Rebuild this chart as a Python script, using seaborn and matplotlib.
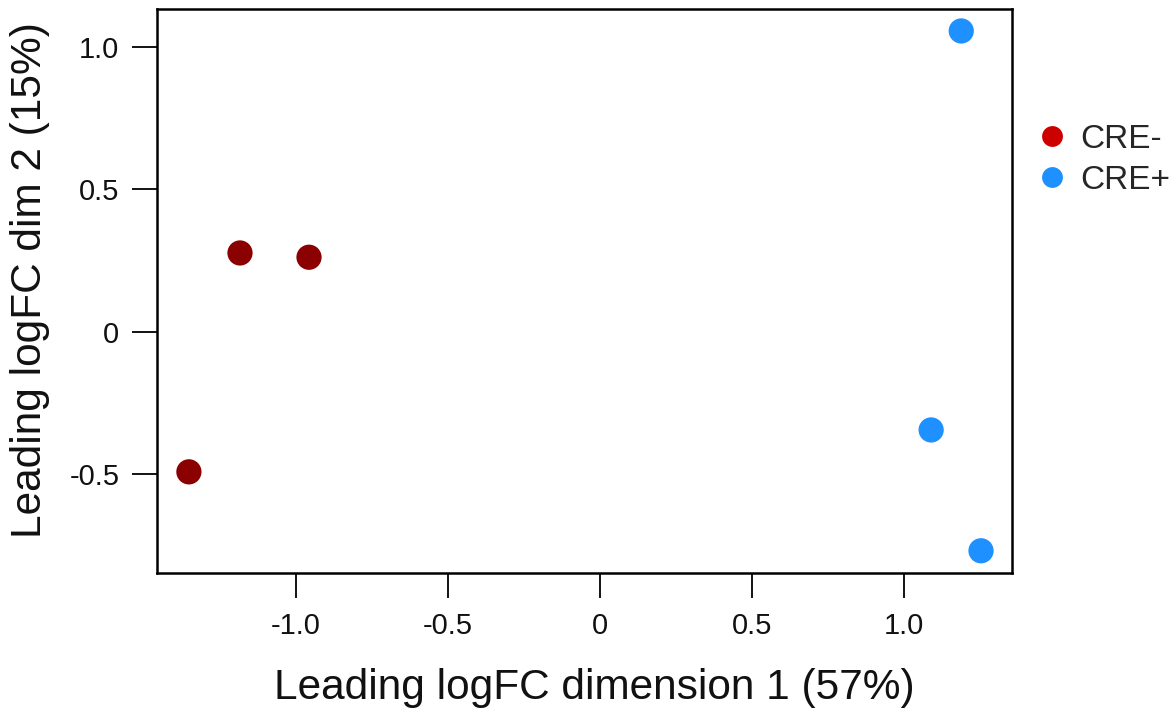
import matplotlib
matplotlib.use("Agg")
import matplotlib.pyplot as plt
from matplotlib.lines import Line2D
import seaborn as sns
import pandas as pd

# data
groups = ["CRE-", "CRE-", "CRE-", "CRE+", "CRE+", "CRE+"]
dim1 = [-1.184, -0.957, -1.352, 1.188, 1.089, 1.253]
dim2 = [0.277, 0.262, -0.491, 1.056, -0.344, -0.768]
x_ticks = [-1.0, -0.5, 0.0, 0.5, 1.0]
x_ticklabels = ["-1.0", "-0.5", "0", "0.5", "1.0"]
y_ticks = [-0.5, 0.0, 0.5, 1.0]
y_ticklabels = ["-0.5", "0", "0.5", "1.0"]
point_colors = {"CRE-": "#8B0000", "CRE+": "#1E90FF"}
legend_colors = {"CRE-": "#CD0000", "CRE+": "#1E90FF"}

df = pd.DataFrame({"dim1": dim1, "dim2": dim2, "group": groups})

sns.set_style("white")
plt.rcParams["font.family"] = ["Liberation Sans", "DejaVu Sans"]
plt.rcParams["axes.unicode_minus"] = False

fig = plt.figure(figsize=(11.75, 7.09), dpi=100)
ax = fig.add_axes([0.1336, 0.1918, 0.8613 - 0.1336, 0.9873 - 0.1918])

sns.scatterplot(data=df, x="dim1", y="dim2", hue="group", palette=point_colors,
                s=330, linewidth=0, legend=False, ax=ax, zorder=3)

ax.set_xlim(-1.457, 1.355)
ax.set_ylim(-0.846, 1.133)
ax.set_xticks(x_ticks)
ax.set_xticklabels(x_ticklabels)
ax.set_yticks(y_ticks)
ax.set_yticklabels(y_ticklabels)
ax.tick_params(axis="both", direction="out", length=18, width=1.3, color="black",
               labelsize=21, labelcolor="#111111", bottom=True, left=True)
ax.tick_params(axis="x", pad=10)
ax.tick_params(axis="y", pad=9)
for sp in ax.spines.values():
    sp.set_visible(True)
    sp.set_color("black")
    sp.set_linewidth(1.8)

ax.set_xlabel("Leading logFC dimension 1 (57%)", fontsize=30.5, color="#111111", labelpad=20)
ax.set_ylabel("Leading logFC dim 2 (15%)", fontsize=30.5, color="#111111", labelpad=14)
ax.xaxis.label.set_x(0.512)
ax.yaxis.label.set_y(0.52)

handles = [Line2D([0], [0], marker="o", linestyle="none", markersize=15,
                  markerfacecolor=legend_colors[g], markeredgewidth=0, label=g)
           for g in ["CRE-", "CRE+"]]
fig.legend(handles=handles, loc="upper left", bbox_to_anchor=(0.8725, 0.844),
           frameon=False, fontsize=24, handletextpad=0.45, labelspacing=0.3,
           handlelength=0.8, borderaxespad=0)

fig.savefig("out.png", dpi=100)
